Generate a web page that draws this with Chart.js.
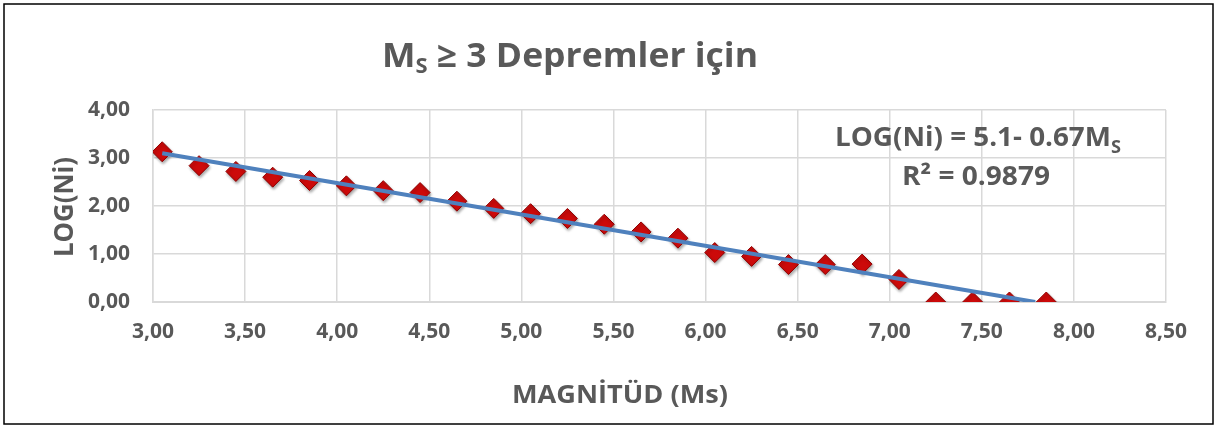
<!DOCTYPE html>
<html>
<head>
<meta charset="utf-8">
<script src="https://cdn.jsdelivr.net/npm/chart.js@4.4.1/dist/chart.umd.min.js"></script>
<style>
  html, body { margin: 0; padding: 0; background: #fff; }
  #wrap { width: 1217px; height: 428px; position: relative; }
</style>
</head>
<body>
<div id="wrap"><canvas id="myChart" width="1217" height="428"></canvas></div>
<script>
// Magnitude classes and log of cumulative counts
const magnitudes = [3.05, 3.25, 3.45, 3.65, 3.85, 4.05, 4.25, 4.45, 4.65, 4.85, 5.05, 5.25, 5.45,
                    5.65, 5.85, 6.05, 6.25, 6.45, 6.65, 6.85, 7.05, 7.25, 7.45, 7.65, 7.85];
const logNi = [3.13, 2.84, 2.72, 2.60, 2.53, 2.42, 2.32, 2.28, 2.10, 1.95, 1.84, 1.74, 1.62,
               1.46, 1.33, 1.03, 0.95, 0.78, 0.78, 0.79, 0.47, 0.00, 0.00, 0.00, 0.00];

// Trendline end points (clipped at the x axis)
const trendX = [3.05, 7.79];
const trendY = [3.10, 0.00];

const xTicks = [3.0, 3.5, 4.0, 4.5, 5.0, 5.5, 6.0, 6.5, 7.0, 7.5, 8.0, 8.5];
const yTicks = [0, 1, 2, 3, 4];

const textGray = '#595959';
const FONT = '"Open Sans", "Liberation Sans", sans-serif';
const fmt = v => v.toFixed(2).replace('.', ',');

// draw a run of [text, size, dy] pieces stretched to a given width
const drawRun = function (ctx, pieces, x, y, width) {
    let natural = 0;
    pieces.forEach(p => {
        ctx.font = 'bold ' + p[1] + 'px ' + FONT;
        p.w = ctx.measureText(p[0]).width;
        natural += p.w;
    });
    ctx.save();
    ctx.translate(x, y);
    ctx.scale(width / natural, 1);
    let cx = 0;
    pieces.forEach(p => {
        ctx.font = 'bold ' + p[1] + 'px ' + FONT;
        ctx.fillText(p[0], cx, p[2] || 0);
        cx += p.w;
    });
    ctx.restore();
};

/*
    Title, axis titles, equation and frame
*/
const labelsPlugin = {
    id: 'labels',
    // soft shadow under the diamonds
    beforeDatasetDraw(chart, args) {
        if (args.index === 1) {
            chart.ctx.save();
            chart.ctx.shadowColor = 'rgba(0, 0, 0, 0.35)';
            chart.ctx.shadowBlur = 3;
            chart.ctx.shadowOffsetX = 1;
            chart.ctx.shadowOffsetY = 2;
        }
    },
    afterDatasetDraw(chart, args) {
        if (args.index === 1) {
            chart.ctx.restore();
        }
    },
    afterDraw(chart) {
        const ctx = chart.ctx;
        ctx.save();
        ctx.fillStyle = textGray;
        ctx.textAlign = 'left';
        ctx.textBaseline = 'alphabetic';

        // title
        drawRun(ctx, [['M', 34], ['S', 21, 6], [' \u2265 3 Depremler i\u00e7in', 34]], 382, 67, 376);

        // equation
        drawRun(ctx, [['LOG(Ni) = 5.1- 0.67M', 26], ['S', 17, 7]], 835, 146, 286);
        drawRun(ctx, [['R\u00b2 = 0.9879', 26]], 902, 185, 148);

        // axis titles
        drawRun(ctx, [['MAGN\u0130T\u00dcD (Ms)', 25]], 512, 403, 216);
        ctx.translate(73, 257);
        ctx.rotate(-Math.PI / 2);
        drawRun(ctx, [['LOG(Ni)', 26]], 0, 0, 100);
        ctx.restore();

        // outer frame
        ctx.save();
        ctx.strokeStyle = '#000';
        ctx.lineWidth = 1.5;
        ctx.strokeRect(4, 4, 1209, 420);
        ctx.restore();
    }
};

const ctx = document.getElementById('myChart').getContext('2d');
const myChart = new Chart(ctx, {
    type: 'scatter',
    data: {
        datasets: [{
            type: 'line',
            label: 'Trend',
            data: trendX.map((v, i) => ({ x: v, y: trendY[i] })),
            borderColor: '#4F81BD',
            borderWidth: 4,
            pointRadius: 0,
            fill: false,
            order: 0
        }, {
            label: 'LOG(Ni)',
            data: magnitudes.map((v, i) => ({ x: v, y: logNi[i] })),
            pointStyle: 'rectRot',
            pointRadius: 10,
            pointHoverRadius: 10,
            backgroundColor: '#CC0A0A',
            borderColor: '#8E0000',
            borderWidth: 1,
            order: 1
        }]
    },
    options: {
        responsive: false,
        animation: false,
        layout: { padding: { top: 110, right: 51, left: 0, bottom: 0 } },
        plugins: {
            legend: { display: false },
            tooltip: { enabled: false }
        },
        scales: {
            x: {
                type: 'linear',
                min: 3,
                max: 8.5,
                afterBuildTicks: scale => { scale.ticks = xTicks.map(v => ({ value: v })); },
                afterFit: scale => { scale.height = 126; },
                ticks: {
                    callback: v => fmt(v),
                    color: textGray,
                    padding: 17,
                    maxRotation: 0,
                    font: { family: FONT, size: 21, weight: 'bold' }
                },
                grid: { color: '#D9D9D9', lineWidth: 1.5, drawTicks: false },
                border: { color: '#D9D9D9', width: 2 }
            },
            y: {
                min: 0,
                max: 4,
                afterBuildTicks: scale => { scale.ticks = yTicks.map(v => ({ value: v })); },
                afterFit: scale => { scale.width = 153; },
                ticks: {
                    callback: v => fmt(v),
                    color: textGray,
                    padding: 23,
                    font: { family: FONT, size: 21, weight: 'bold' }
                },
                grid: { color: '#D9D9D9', lineWidth: 1.5, drawTicks: false },
                border: { color: '#D9D9D9', width: 1.5 }
            }
        }
    },
    plugins: [labelsPlugin]
});
</script>
</body>
</html>
